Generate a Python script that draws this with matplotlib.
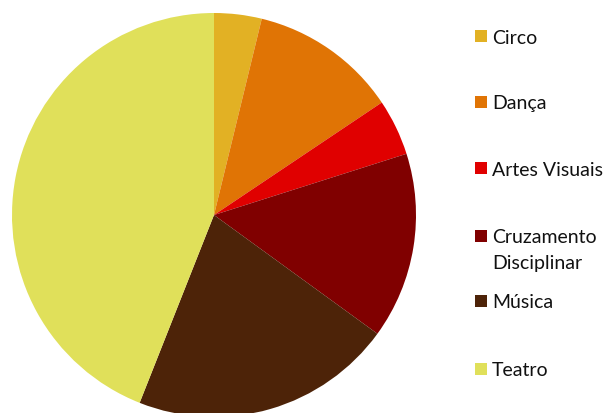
import matplotlib
matplotlib.use('Agg')
import matplotlib.pyplot as plt
from matplotlib.patches import Rectangle

labels = ['Circo', 'Dança', 'Artes Visuais', 'Cruzamento\nDisciplinar', 'Música', 'Teatro']
values = [3.8, 11.8, 4.5, 14.9, 21.0, 44.0]
colors = ['#E2B124', '#E07405', '#E00000', '#800000', '#4D2308', '#E0E05A']
legend_y = [37, 103, 169, 237, 302, 370]  # pixel rows of the legend entries

W, H = 613, 414
fig = plt.figure(figsize=(W / 100, H / 100), dpi=100)

cx, cy, r = 214, 216, 202
ax = fig.add_axes([(cx - r) / W, (H - cy - r) / H, 2 * r / W, 2 * r / H])
ax.pie(values, colors=colors, startangle=90, counterclock=False, radius=1,
       wedgeprops=dict(linewidth=0))
ax.set_xlim(-1, 1)
ax.set_ylim(-1, 1)
ax.set_aspect('equal')
ax.axis('off')

for lab, col, y in zip(labels, colors, legend_y):
    fig.patches.append(Rectangle((475 / W, 1 - (y + 6) / H), 12 / W, 12 / H,
                                 transform=fig.transFigure, facecolor=col,
                                 edgecolor='none'))
    lines = lab.split('\n')
    for i, line in enumerate(lines):
        fig.text(492 / W, 1 - (y + 1 + 26 * i) / H, line, fontsize=14,
                 family='Lato', color='#111111', va='center', ha='left')

fig.savefig('out.png', dpi=100)
